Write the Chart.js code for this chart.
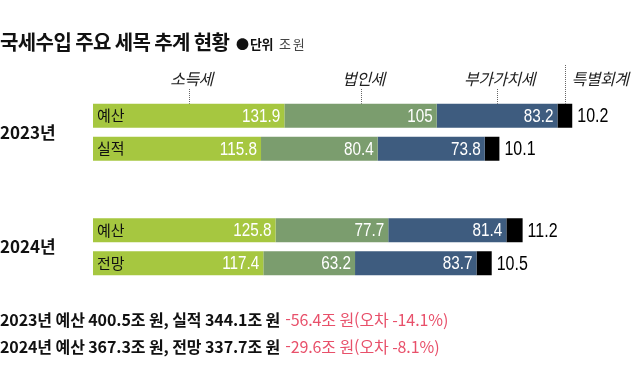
<!DOCTYPE html>
<html lang="ko">
<head>
<meta charset="utf-8">
<script src="https://cdn.jsdelivr.net/npm/chart.js@4.4.1/dist/chart.umd.min.js"></script>
<style>
  body { margin: 0; background: #fff; }
  #wrap { position: relative; width: 640px; height: 366px; }
</style>
</head>
<body>
<div id="wrap"><canvas id="taxChart"></canvas></div>
<script>
// data (조 원)
const years = ['2023년', '2024년'];
const seriesNames = ['소득세', '법인세', '부가가치세', '특별회계'];
const firstRowNames = ['예산', '예산'];
const secondRowNames = ['실적', '전망'];

const incomeTaxBudget = [131.9, 125.8];
const incomeTaxResult = [115.8, 117.4];
const corpTaxBudget = [105, 77.7];
const corpTaxResult = [80.4, 63.2];
const vatBudget = [83.2, 81.4];
const vatResult = [73.8, 83.7];
const specialBudget = [10.2, 11.2];
const specialResult = [10.1, 10.5];

const footerBlack = ['2023년 예산 400.5조 원, 실적 344.1조 원', '2024년 예산 367.3조 원, 전망 337.7조 원'];
const footerRed = ['-56.4조 원(오차 -14.1%)', '-29.6조 원(오차 -8.1%)'];

const colors = ['#a6c740', '#7b9d6e', '#3e5c7f', '#000000'];
const KR = '"Noto Sans CJK KR", "Noto Sans", sans-serif';
const NUM = '"Liberation Sans", Arial, sans-serif';

const budgetSets = [incomeTaxBudget, corpTaxBudget, vatBudget, specialBudget];
const resultSets = [incomeTaxResult, corpTaxResult, vatResult, specialResult];

const datasets = [];
seriesNames.forEach((name, i) => {
  datasets.push({ label: name, data: budgetSets[i], stack: 'budget', backgroundColor: colors[i] });
  datasets.push({ label: name, data: resultSets[i], stack: 'result', backgroundColor: colors[i] });
});

// narrow numbers: squeeze the text horizontally
function narrowText(ctx, text, x, y, align, sx) {
  ctx.save();
  ctx.textAlign = align;
  ctx.translate(x, y);
  ctx.scale(sx, 1);
  ctx.fillText(text, 0, 0);
  ctx.restore();
}

const annotate = {
  id: 'annotate',
  afterDatasetsDraw(chart) {
    const ctx = chart.ctx;
    ctx.save();

    // title
    ctx.fillStyle = '#111';
    ctx.textBaseline = 'middle';
    ctx.textAlign = 'left';
    ctx.font = 'bold 20px ' + KR;
    ctx.letterSpacing = '-0.6px';
    ctx.fillText('국세수입 주요 세목 추계 현황', 0, 42);
    ctx.letterSpacing = '0px';
    ctx.font = '13px ' + KR;
    ctx.fillText('●', 236, 44);
    ctx.font = 'bold 13px ' + KR;
    ctx.letterSpacing = '-0.5px';
    ctx.fillText('단위', 250, 44);
    ctx.font = '13px ' + KR;
    ctx.fillStyle = '#444';
    ctx.fillText('조 원', 279, 44);
    ctx.letterSpacing = '0px';

    // values in and after the bars
    chart.data.datasets.forEach((ds, di) => {
      const meta = chart.getDatasetMeta(di);
      const last = ds.label === seriesNames[seriesNames.length - 1];
      meta.data.forEach((bar, j) => {
        const v = ds.data[j];
        if (last) {
          ctx.font = '20px ' + NUM;
          ctx.fillStyle = '#000';
          narrowText(ctx, String(v), bar.x + 5, bar.y + 1, 'left', 0.8);
        } else {
          ctx.font = '18px ' + NUM;
          ctx.fillStyle = '#fff';
          narrowText(ctx, String(v), bar.x - 4, bar.y + 1, 'right', 0.85);
        }
        if (di < 2) {
          ctx.fillStyle = '#111';
          ctx.font = '15px ' + KR;
          ctx.textAlign = 'left';
          const rowName = ds.stack === 'budget' ? firstRowNames[j] : secondRowNames[j];
          ctx.fillText(rowName, bar.base + 4, bar.y);
        }
      });
    });

    // series labels with dotted leaders, from the first bar
    const labelY = 79;
    chart.data.datasets.forEach((ds, di) => {
      if (ds.stack !== 'budget') return;
      const bar = chart.getDatasetMeta(di).data[0];
      const last = ds.label === seriesNames[seriesNames.length - 1];
      const x = Math.round((bar.base + bar.x) / 2) + 0.5;
      const top = bar.y - bar.height / 2;
      ctx.strokeStyle = '#666';
      ctx.lineWidth = 1;
      ctx.setLineDash([1, 1]);
      ctx.beginPath();
      ctx.moveTo(x, last ? 65 : 89);
      ctx.lineTo(x, top);
      ctx.stroke();
      ctx.setLineDash([]);
      ctx.fillStyle = '#222';
      ctx.font = 'italic 16px ' + KR;
      ctx.letterSpacing = '-0.5px';
      if (last) {
        ctx.textAlign = 'left';
        ctx.fillText(ds.label, x + 6, labelY);
      } else {
        ctx.textAlign = 'center';
        ctx.fillText(ds.label, x + 2, labelY);
      }
      ctx.letterSpacing = '0px';
    });

    // footer
    ctx.textAlign = 'left';
    ctx.letterSpacing = '-0.1px';
    [320, 347].forEach((y, i) => {
      ctx.font = 'bold 16px ' + KR;
      ctx.fillStyle = '#111';
      ctx.fillText(footerBlack[i], 0, y);
      const w = ctx.measureText(footerBlack[i]).width;
      ctx.font = '16px ' + KR;
      ctx.fillStyle = '#e8506a';
      ctx.fillText(footerRed[i], w + 5, y);
    });
    ctx.restore();
  }
};

new Chart(document.getElementById('taxChart'), {
  type: 'bar',
  data: { labels: years, datasets: datasets },
  options: {
    indexAxis: 'y',
    responsive: true,
    maintainAspectRatio: false,
    animation: false,
    categoryPercentage: 0.5764,
    barPercentage: 0.7273,
    borderWidth: 0,
    layout: { padding: { top: 75, bottom: 62, left: 0, right: 0 } },
    plugins: { legend: { display: false }, tooltip: { enabled: false } },
    scales: {
      x: { stacked: true, display: false, min: 0, max: 377 },
      y: {
        stacked: true,
        grid: { display: false },
        border: { display: false },
        afterFit: (scale) => { scale.width = 93; },
        ticks: {
          crossAlign: 'far',
          padding: 0,
          color: '#111',
          font: { family: KR, size: 17, weight: 'bold' }
        }
      }
    }
  },
  plugins: [annotate]
});
</script>
</body>
</html>
